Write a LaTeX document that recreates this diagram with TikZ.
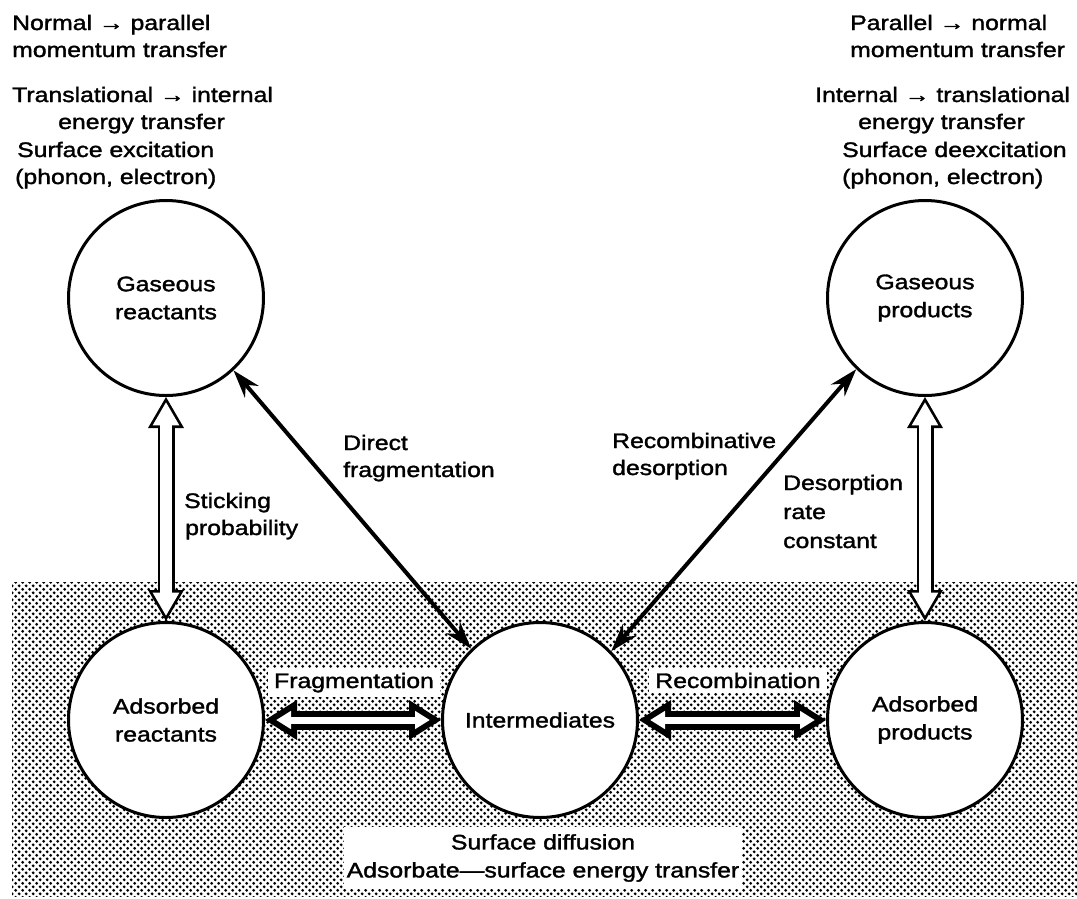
\documentclass[tikz,border=0pt]{standalone}
\usepackage{fontspec}
\setmainfont{Liberation Sans}[FakeStretch=1.18, FakeBold=1.6]
\usetikzlibrary{arrows.meta,patterns}

% halftone screen for the surface region
\pgfdeclarepatternformonly{halftone}{\pgfqpoint{0pt}{0pt}}{\pgfqpoint{7.4pt}{7.4pt}}{\pgfqpoint{7.4pt}{7.4pt}}{%
  \pgfpathcircle{\pgfqpoint{1.85pt}{1.85pt}}{1.65pt}%
  \pgfpathcircle{\pgfqpoint{5.55pt}{5.55pt}}{1.65pt}%
  \pgfusepath{fill}}

\tikzset{
  every node/.style={font=\fontsize{21}{28}\selectfont, inner sep=0pt},
  state/.style={circle, draw, line width=3pt, fill=white, minimum size=195pt, align=center},
  note/.style={anchor=base west},
  tag/.style={fill=white, inner xsep=6pt, inner ysep=5pt, anchor=base},
  link/.style={line width=4pt, {Stealth[length=28pt,width=18pt]}-{Stealth[length=28pt,width=18pt]}},
  % thin hollow double arrow: black outline pass, then white interior pass
  thinout/.style={line width=17pt,
    {Triangle[length=31pt,width=36pt,line width=0pt]}-{Triangle[length=31pt,width=36pt,line width=0pt]}},
  thinin/.style={white, line width=11.6pt, shorten <=5.4pt, shorten >=5.4pt,
    {Triangle[length=22.9pt,width=26.6pt,line width=0pt]}-{Triangle[length=22.9pt,width=26.6pt,line width=0pt]}},
  % heavy hollow double arrow
  boldout/.style={line width=19pt,
    {Triangle[length=32pt,width=40pt,line width=0pt]}-{Triangle[length=32pt,width=40pt,line width=0pt]}},
  boldin/.style={white, line width=7pt, shorten <=11.3pt, shorten >=11.3pt,
    {Triangle[length=14.7pt,width=18.4pt,line width=0pt]}-{Triangle[length=14.7pt,width=18.4pt,line width=0pt]}},
}

\newcommand\hollowlink[4]{%
  \draw[#1] (#3) -- (#4);
  \draw[#2] (#3) -- (#4);}

\begin{document}
\begin{tikzpicture}[x=1pt, y=-1pt]
\useasboundingbox (0,0) rectangle (1077,898);

% surface region
\fill[pattern=halftone] (12,582) rectangle (1077,896);

% states
\node[state] (gr) at (166,298) {Gaseous\\reactants};
\node[state] (gp) at (925,298) {Gaseous\\products};
\node[state] (ar) at (166,720) {Adsorbed\\reactants};
\node[state] (im) at (540,720) {Intermediates};
\node[state] (ap) at (925,720) {Adsorbed\\products};

% gas-phase processes, reactant side
\node[note] (l1) at (12,30) {Normal → parallel};
\node[note] (l2) at (12,57) {momentum transfer};
\node[note] (l3) at (12,102) {Translational → internal};
\node[note] (l4) at (58,129) {energy transfer};
\node[note] (l5) at (17,157) {Surface excitation};
\node[note] (l6) at (15,184) {(phonon, electron)};

% gas-phase processes, product side
\node[note] (r1) at (850,30) {Parallel → normal};
\node[note] (r2) at (850,57) {momentum transfer};
\node[note] (r3) at (815,102) {Internal → translational};
\node[note] (r4) at (858,129) {energy transfer};
\node[note] (r5) at (842,157) {Surface deexcitation};
\node[note] (r6) at (842,184) {(phonon, electron)};

% adsorption / desorption
\hollowlink{thinout}{thinin}{gr.south}{ar.north}
\hollowlink{thinout}{thinin}{gp.south}{ap.north}
\node[note] (s1) at (184,508) {Sticking};
\node[note] (s2) at (185,535) {probability};
\node[note] (d1) at (783,490) {Desorption};
\node[note] (d2) at (783,519) {rate};
\node[note] (d3) at (783,548) {constant};

% direct channels
\draw[link] (gr.-47) -- (im.134);
\draw[link] (gp.226.6) -- (im.44.6);
\node[note] (f1) at (343,450) {Direct};
\node[note] (f2) at (343,477) {fragmentation};
\node[note] (c1) at (612,448) {Recombinative};
\node[note] (c2) at (612,475) {desorption};

% surface reactions
\hollowlink{boldout}{boldin}{ar.east}{im.west}
\hollowlink{boldout}{boldin}{im.east}{ap.west}
\node[tag] (fr) at (354,688) {Fragmentation};
\node[tag] (rc) at (738,688) {Recombination};

% processes on the surface
\node[fill=white, align=center, inner xsep=3pt, inner ysep=7pt] (sd) at (543,858)
  {Surface diffusion\\Adsorbate—surface energy transfer};
\end{tikzpicture}
\end{document}
